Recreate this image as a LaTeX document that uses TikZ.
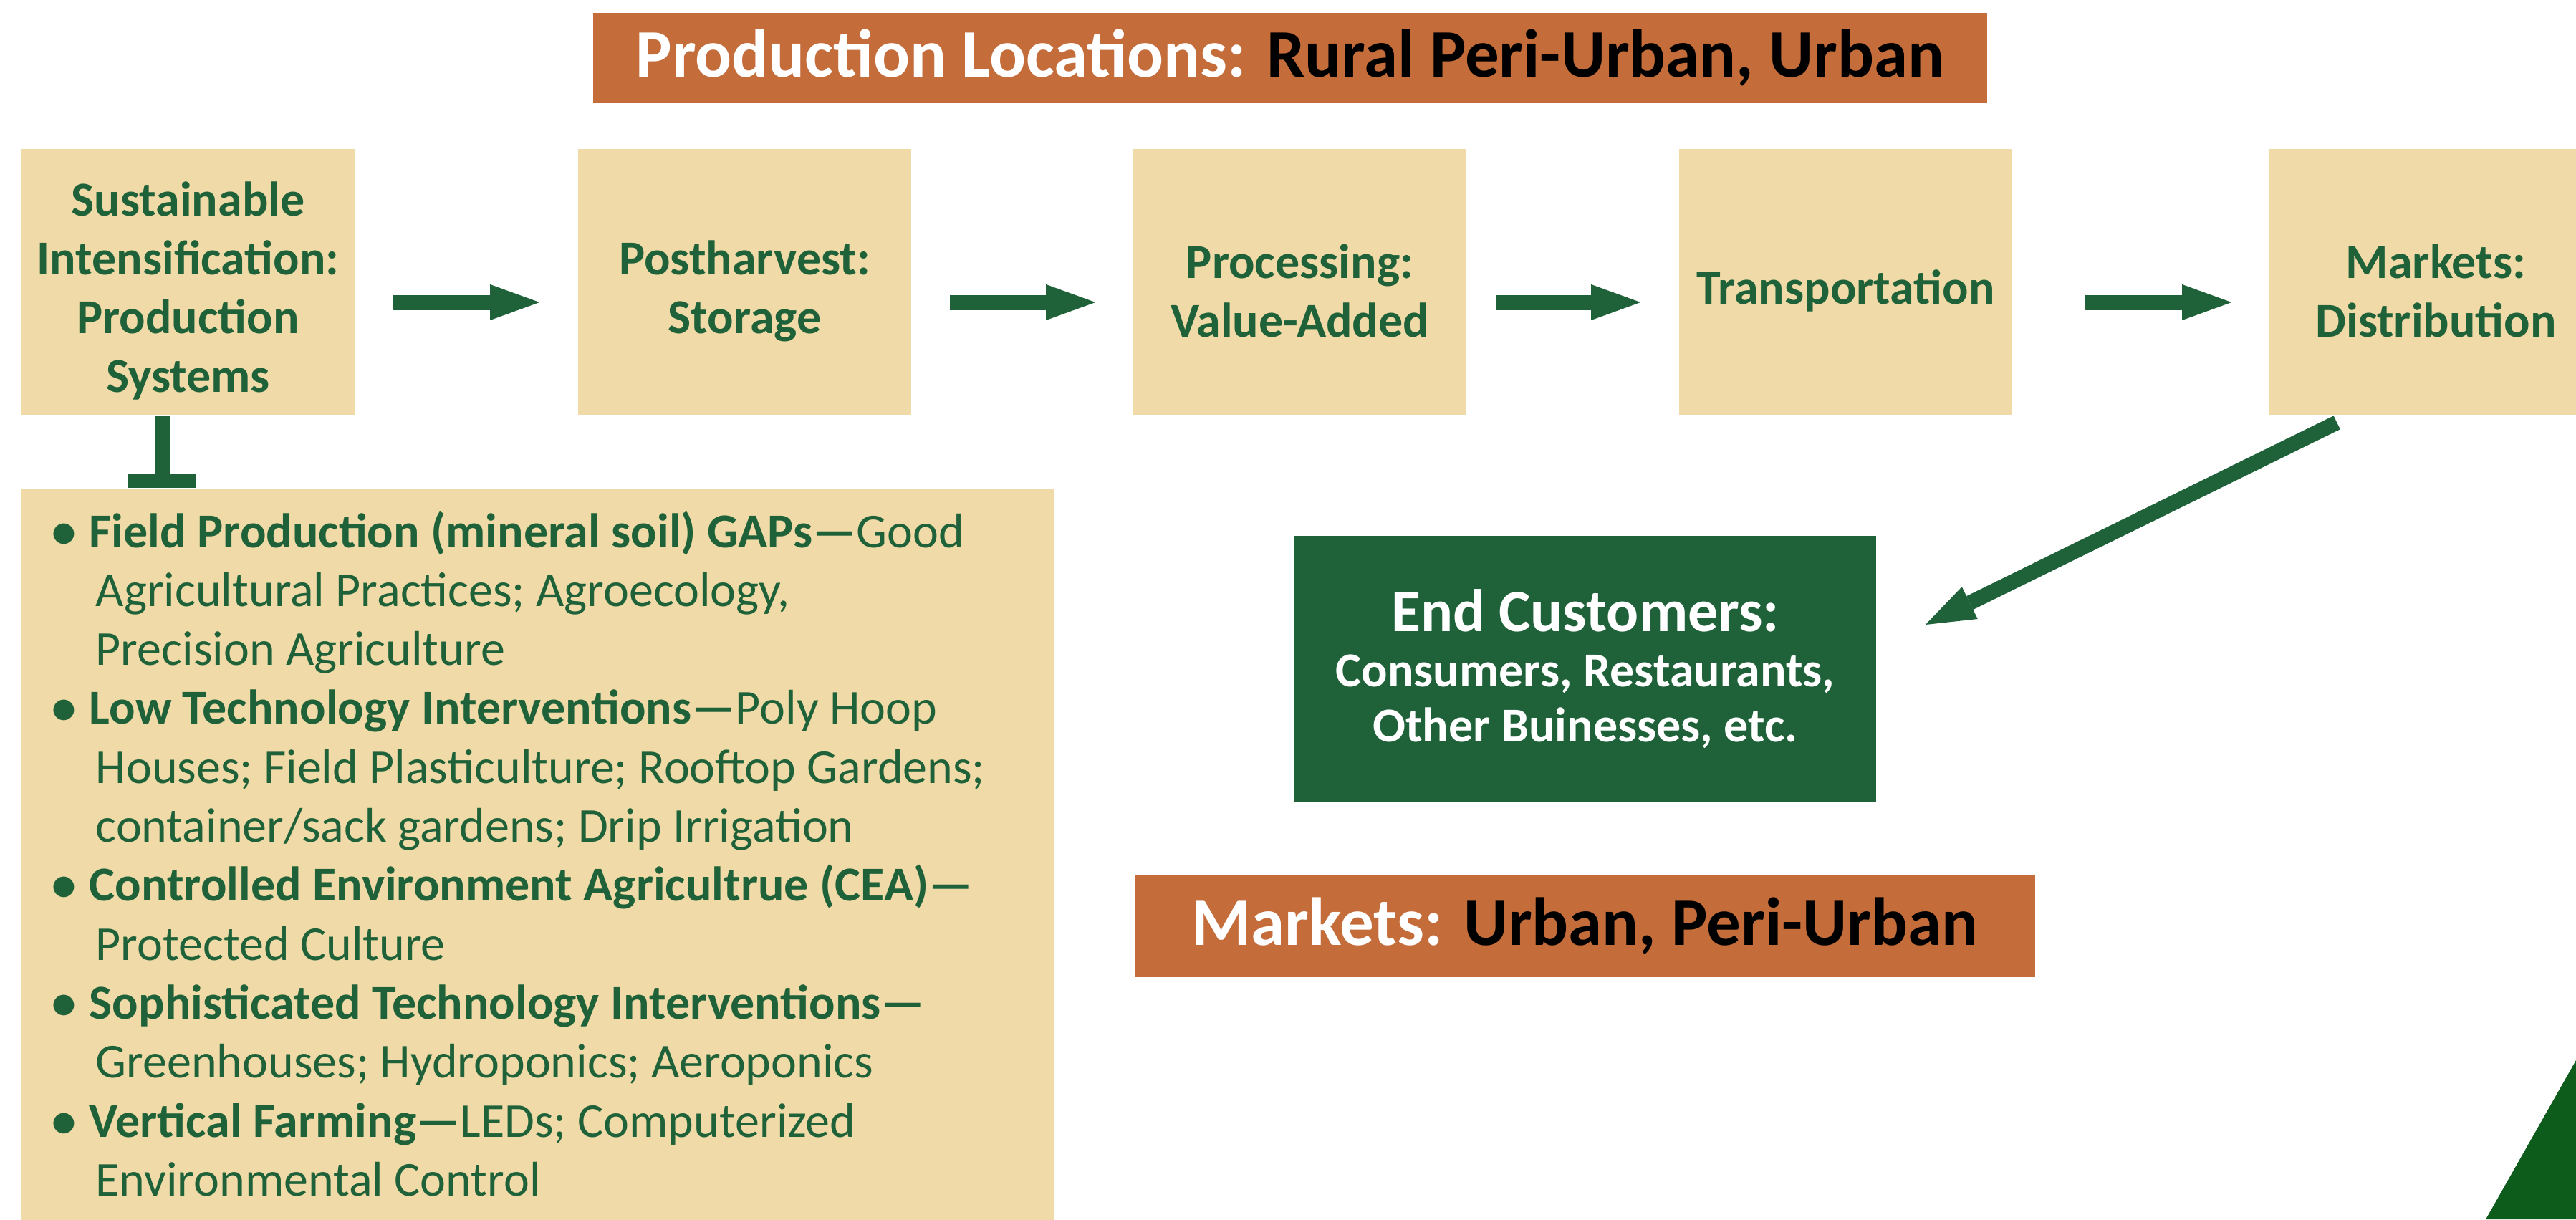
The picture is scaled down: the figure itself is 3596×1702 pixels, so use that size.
\documentclass[tikz,border=0pt]{standalone}
\usepackage{fontspec}
\setmainfont{Carlito}
\usetikzlibrary{arrows.meta,calc}
\definecolor{agreen}{HTML}{1F6239}
\definecolor{beige}{HTML}{F0DAA8}
\definecolor{rust}{HTML}{C46C3A}
\definecolor{tri}{HTML}{0E5C1B}
\begin{document}
\begin{tikzpicture}[x=0.25pt,y=-0.25pt,
  stage/.style={fill=beige, minimum width=116.25pt, minimum height=92.75pt, inner sep=0pt},
  stagetext/.style={text=agreen, font=\bfseries\fontsize{17pt}{20.5pt}\selectfont, align=center, inner sep=0pt, yshift=-3.2pt},
  banner/.style={fill=rust, text=black, font=\bfseries\fontsize{23.75pt}{28pt}\selectfont, inner sep=0pt},
  arr/.style={draw=agreen, line width=5.25pt, -{Triangle[length=17.25pt,width=12.5pt,line width=0pt]}},
  item/.style={anchor=base west, text=agreen, inner sep=0pt, font=\fontsize{17pt}{20.5pt}\selectfont},
]
\useasboundingbox (0,0) rectangle (3596,1702);
\clip (0,0) rectangle (3596,1702);
\fill[white] (0,0) rectangle (3596,1702);

% top banner
\node[banner, minimum width=486.5pt, minimum height=31.5pt] (top) at (1801,81)
  {\textcolor{white}{Production Locations:} Rural Peri-Urban, Urban};

% stage boxes
\node[stage] (b1) at (262.5,393.5) {};
\node[stage] (b2) at (1039.5,393.5) {};
\node[stage] (b3) at (1814.5,393.5) {};
\node[stage] (b4) at (2576.5,393.5) {};
\node[stage] (b5) at (3400.5,393.5) {};
\node[stagetext] (t1) at (b1.center) {Sustainable\\Intensification:\\Production\\Systems};
\node[stagetext] (t2) at (b2.center) {Postharvest:\\Storage};
\node[stagetext] (t3) at (b3.center) {Processing:\\Value-Added};
\node[stagetext] (t4) at (b4.center) {Transportation};
\node[stagetext] (t5) at (b5.center) {Markets:\\Distribution};

% arrows between stages
\coordinate (ay) at (0,422);
\draw[arr, shorten <=13.25pt, shorten >=13.25pt] (b1.east |- ay) -- (b2.west |- ay);
\draw[arr, shorten <=13.25pt, shorten >=13pt] (b2.east |- ay) -- (b3.west |- ay);
\draw[arr, shorten <=10pt, shorten >=13.25pt] (b3.east |- ay) -- (b4.west |- ay);
\draw[arr, shorten <=25pt, shorten >=13pt] (b4.east |- ay) -- (b5.west |- ay);

% end customers
\node[fill=agreen, text=white, align=center, minimum width=203pt, minimum height=92.75pt, inner sep=0pt,
  font=\bfseries\fontsize{17pt}{19.2pt}\selectfont] (ec) at (2213,933.5)
  {{\fontsize{21pt}{19.2pt}\selectfont End Customers:}\\Consumers, Restaurants,\\Other Buinesses, etc.};

\draw[arr] ($(b5.south west)+(95,10)$) -- ($(ec.east)+(68,-61.5)$);

% markets banner
\node[banner, minimum width=314.25pt, minimum height=35.75pt] (mk) at (2212.5,1292.5)
  {\textcolor{white}{Markets:} Urban, Peri-Urban};

% list box
\node[fill=beige, minimum width=360.5pt, minimum height=259.5pt, inner sep=0pt] (lst) at (751,1201) {};

% T connector
\fill[agreen] ($(b1.south west)+(187,0)$) rectangle ($(lst.north west)+(208,-20)$);
\fill[agreen] ($(lst.north west)+(149,0)$) rectangle ($(lst.north west)+(245,-20)$);

% list lines
\node[item] (l1) at (124,764) {\llap{\makebox[17.5pt]{\textbf{•}}}\textbf{Field Production (mineral soil) GAPs—}Good};
\node[item] (l2) at (133,846.3) {Agricultural Practices; Agroecology,};
\node[item] (l3) at (133,928.6) {Precision Agriculture};
\node[item] (l4) at (124,1010.9) {\llap{\makebox[17.5pt]{\textbf{•}}}\textbf{Low Technology Interventions—}Poly Hoop};
\node[item] (l5) at (133,1093.2) {Houses; Field Plasticulture; Rooftop Gardens;};
\node[item] (l6) at (133,1175.5) {container/sack gardens; Drip Irrigation};
\node[item] (l7) at (124,1257.8) {\llap{\makebox[17.5pt]{\textbf{•}}}\textbf{Controlled Environment Agricultrue (CEA)—}};
\node[item] (l8) at (133,1340.1) {Protected Culture};
\node[item] (l9) at (124,1422.4) {\llap{\makebox[17.5pt]{\textbf{•}}}\textbf{Sophisticated Technology Interventions—}};
\node[item] (l10) at (133,1504.7) {Greenhouses; Hydroponics; Aeroponics};
\node[item] (l11) at (124,1587) {\llap{\makebox[17.5pt]{\textbf{•}}}\textbf{Vertical Farming—}LEDs; Computerized};
\node[item] (l12) at (133,1669.3) {Environmental Control};

% corner triangle
\fill[tri] (3596,1480) -- (3470,1702) -- (3596,1702) -- cycle;
\end{tikzpicture}
\end{document}
